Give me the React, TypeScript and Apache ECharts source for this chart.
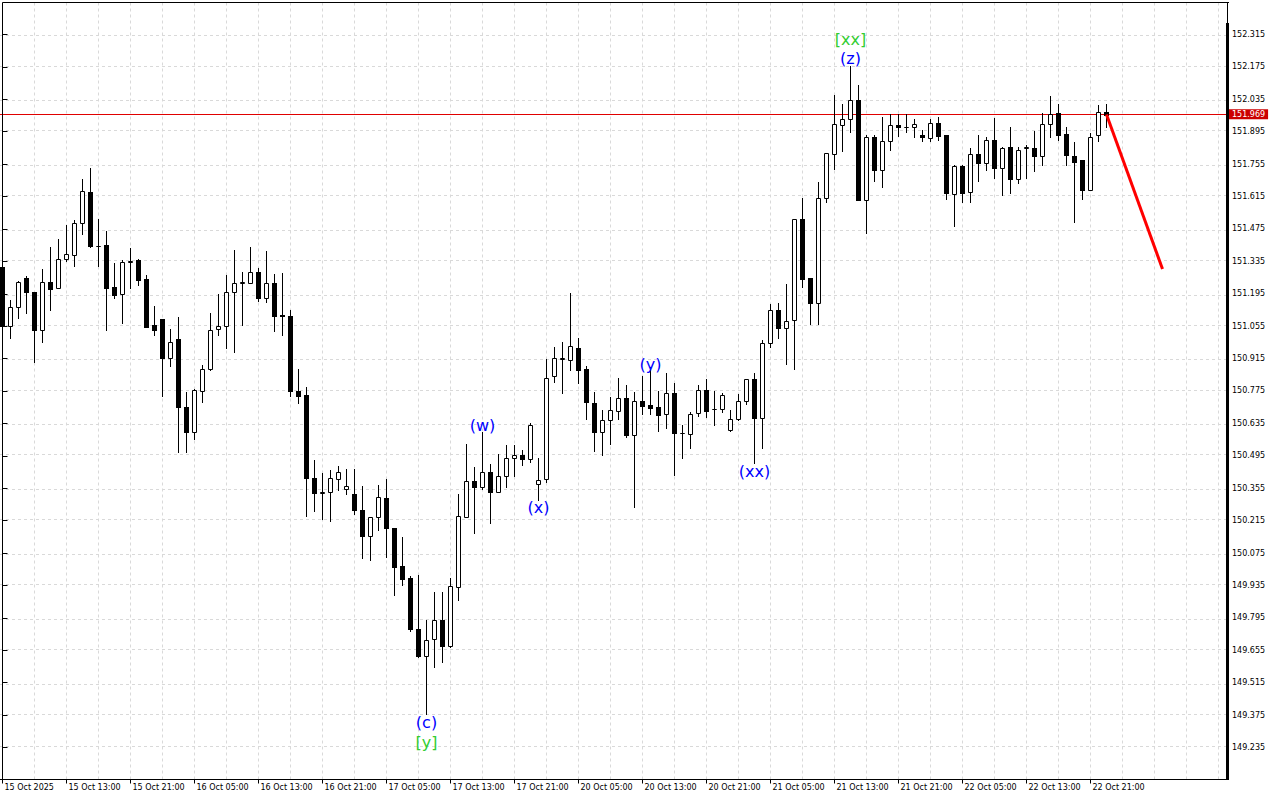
import React, { useEffect, useRef } from "react";
import * as echarts from "echarts";

// ---- Axis labels ----
const timeLabels = [
  "15 Oct 2025", "15 Oct 13:00", "15 Oct 21:00", "16 Oct 05:00", "16 Oct 13:00", "16 Oct 21:00",
  "17 Oct 05:00", "17 Oct 13:00", "17 Oct 21:00", "20 Oct 05:00", "20 Oct 13:00", "20 Oct 21:00",
  "21 Oct 05:00", "21 Oct 13:00", "21 Oct 21:00", "22 Oct 05:00", "22 Oct 13:00", "22 Oct 21:00",
];
const timeLabelBars = [0, 8, 16, 24, 32, 40, 48, 56, 64, 72, 80, 88, 96, 104, 112, 120, 128, 136];
const gridBars = [0, 4, 8, 12, 16, 20, 24, 28, 32, 36, 40, 44, 48, 52, 56, 60, 64, 68, 72, 76, 80, 84, 88, 92, 96, 100, 104, 108, 112, 116, 120, 124, 128, 132, 136, 140, 144, 148, 152];
const priceTicks = [
  152.315, 152.175, 152.035, 151.895, 151.755, 151.615, 151.475, 151.335, 151.195, 151.055,
  150.915, 150.775, 150.635, 150.495, 150.355, 150.215, 150.075, 149.935, 149.795, 149.655,
  149.515, 149.375, 149.235,
];

// ---- Candles (H1, bar index 0 = 15 Oct 05:00) ----
const open = [
  151.309, 151.055, 151.139, 151.264, 151.204, 151.038, 151.247, 151.221, 151.346, 151.362,
  151.502, 151.636, 151.401, 151.404, 151.223, 151.195, 151.334, 151.340, 151.257, 151.058,
  151.087, 150.917, 151.001, 150.708, 150.597, 150.776, 150.868, 151.044, 151.057, 151.204,
  151.242, 151.242, 151.290, 151.176, 151.242, 151.102, 151.101, 150.777, 150.756, 150.400,
  150.336, 150.340, 150.396, 150.350, 150.328, 150.263, 150.148, 150.230, 150.314, 150.184,
  150.017, 149.965, 149.748, 149.629, 149.705, 149.784, 149.673, 149.929, 150.232, 150.387,
  150.361, 150.426, 150.340, 150.407, 150.487, 150.499, 150.482, 150.374, 150.393, 150.839,
  150.915, 150.911, 150.962, 150.868, 150.724, 150.597, 150.649, 150.690, 150.746, 150.586,
  150.731, 150.716, 150.705, 150.675, 150.767, 150.593, 150.590, 150.681, 150.780, 150.696,
  150.696, 150.606, 150.653, 150.733, 150.825, 150.658, 150.983, 151.127, 151.046, 151.080,
  151.520, 151.262, 151.154, 151.610, 151.800, 151.925, 151.951, 152.033, 151.598, 151.873,
  151.729, 151.856, 151.926, 151.916, 151.916, 151.879, 151.869, 151.934, 151.879, 151.628,
  151.745, 151.634, 151.800, 151.761, 151.861, 151.737, 151.831, 151.692, 151.825, 151.823,
  151.789, 151.929, 151.974, 151.887, 151.792, 151.772, 151.645, 151.880, 151.981,
];
const high = [
  151.317, 151.170, 151.252, 151.271, 151.204, 151.300, 151.398, 151.433, 151.494, 151.512,
  151.689, 151.740, 151.516, 151.464, 151.326, 151.343, 151.394, 151.346, 151.274, 151.144,
  151.087, 151.041, 151.093, 150.770, 150.782, 150.888, 151.114, 151.193, 151.274, 151.382,
  151.290, 151.398, 151.306, 151.378, 151.281, 151.286, 151.123, 150.868, 150.794, 150.475,
  150.422, 150.432, 150.453, 150.439, 150.436, 150.364, 150.232, 150.367, 150.393, 150.185,
  150.144, 149.975, 149.979, 149.784, 149.908, 149.905, 149.965, 150.332, 150.544, 150.448,
  150.597, 150.458, 150.504, 150.540, 150.540, 150.522, 150.638, 150.487, 150.914, 150.966,
  150.988, 151.199, 151.002, 150.885, 150.772, 150.691, 150.748, 150.832, 150.799, 150.772,
  150.839, 150.880, 150.777, 150.854, 150.810, 150.626, 150.685, 150.799, 150.828, 150.777,
  150.767, 150.695, 150.763, 150.825, 150.854, 150.995, 151.149, 151.153, 151.239, 151.519,
  151.610, 151.262, 151.679, 151.804, 152.052, 152.013, 152.178, 152.095, 151.879, 151.879,
  151.960, 151.972, 151.972, 151.972, 151.951, 151.902, 151.948, 151.960, 151.879, 151.750,
  151.750, 151.826, 151.879, 151.873, 151.953, 151.830, 151.915, 151.830, 151.836, 151.896,
  151.977, 152.049, 152.016, 151.915, 151.850, 151.772, 151.890, 152.010, 152.013,
];
const low = [
  151.041, 151.002, 151.090, 151.110, 150.900, 150.986, 151.124, 151.221, 151.336, 151.317,
  151.455, 151.398, 151.314, 151.038, 151.176, 151.067, 151.221, 151.231, 151.051, 151.019,
  150.753, 150.882, 150.511, 150.511, 150.566, 150.727, 150.865, 151.016, 150.960, 150.943,
  151.059, 151.242, 151.163, 151.159, 151.033, 151.016, 150.753, 150.721, 150.234, 150.256,
  150.223, 150.213, 150.347, 150.328, 150.242, 150.055, 150.047, 150.174, 150.057, 149.893,
  149.936, 149.737, 149.627, 149.378, 149.582, 149.604, 149.670, 149.871, 150.232, 150.161,
  150.350, 150.203, 150.340, 150.361, 150.407, 150.456, 150.469, 150.306, 150.381, 150.813,
  150.767, 150.865, 150.810, 150.655, 150.515, 150.498, 150.548, 150.652, 150.577, 150.273,
  150.674, 150.674, 150.604, 150.614, 150.411, 150.484, 150.527, 150.666, 150.664, 150.630,
  150.683, 150.601, 150.649, 150.717, 150.465, 150.527, 150.964, 151.002, 150.890, 150.872,
  151.224, 151.065, 151.065, 151.592, 151.736, 151.811, 151.893, 151.598, 151.458, 151.681,
  151.657, 151.817, 151.876, 151.893, 151.871, 151.854, 151.854, 151.861, 151.605, 151.487,
  151.591, 151.591, 151.681, 151.729, 151.696, 151.621, 151.629, 151.674, 151.696, 151.725,
  151.753, 151.873, 151.861, 151.750, 151.504, 151.605, 151.645, 151.854, 151.915,
];
const close = [
  151.054, 151.139, 151.247, 151.202, 151.038, 151.247, 151.215, 151.346, 151.368, 151.502,
  151.640, 151.401, 151.403, 151.219, 151.189, 151.334, 151.336, 151.254, 151.051, 151.038,
  150.917, 150.988, 150.705, 150.597, 150.779, 150.871, 151.039, 151.057, 151.204, 151.242,
  151.244, 151.290, 151.176, 151.242, 151.098, 151.100, 150.776, 150.753, 150.400, 150.335,
  150.338, 150.400, 150.426, 150.364, 150.260, 150.148, 150.232, 150.318, 150.184, 150.014,
  149.961, 149.745, 149.629, 149.700, 149.784, 149.673, 149.934, 150.236, 150.387, 150.361,
  150.426, 150.340, 150.409, 150.487, 150.499, 150.482, 150.626, 150.392, 150.829, 150.918,
  150.917, 150.969, 150.865, 150.727, 150.597, 150.649, 150.691, 150.746, 150.583, 150.731,
  150.712, 150.701, 150.670, 150.767, 150.593, 150.595, 150.677, 150.780, 150.688, 150.698,
  150.759, 150.652, 150.733, 150.825, 150.658, 150.983, 151.126, 151.046, 151.078, 151.519,
  151.260, 151.154, 151.610, 151.801, 151.929, 151.951, 152.030, 151.598, 151.874, 151.729,
  151.856, 151.923, 151.916, 151.917, 151.929, 151.873, 151.934, 151.876, 151.631, 151.745,
  151.631, 151.800, 151.759, 151.861, 151.737, 151.826, 151.692, 151.818, 151.827, 151.789,
  151.929, 151.972, 151.883, 151.794, 151.763, 151.645, 151.873, 151.981, 151.969,
];

// ---- Overlays ----
const bidPrice = 151.969;
const forecastBars = [138, 145];
const forecastPrices = [151.969, 151.302];

const BLUE = "#0000ff";
const GREEN = "#32cd32";
const waveLabels = [
  { text: "[xx]", bar: 106, price: 152.293, color: GREEN },
  { text: "(z)", bar: 106, price: 152.211, color: BLUE },
  { text: "(w)", bar: 60, price: 150.628, color: BLUE },
  { text: "(x)", bar: 67, price: 150.27, color: BLUE },
  { text: "(y)", bar: 81, price: 150.89, color: BLUE },
  { text: "(xx)", bar: 94, price: 150.429, color: BLUE },
  { text: "(c)", bar: 53, price: 149.343, color: BLUE },
  { text: "[y]", bar: 53, price: 149.257, color: GREEN },
];

const FONT = "DejaVu Sans";

export default function App() {
  const ref = useRef<HTMLDivElement>(null);

  useEffect(() => {
    if (!ref.current) return;
    const chart = echarts.init(ref.current, null, { renderer: "svg" });

    const candleData = open.map((o, i) => [i, o, high[i], low[i], close[i]]);

    const option: any = {
      animation: false,
      backgroundColor: "#ffffff",
      grid: { left: 0, top: 2, width: 1226, height: 777.5 },
      xAxis: {
        type: "value",
        min: -0.3125,
        max: 152.9375,
        axisLine: { show: true, lineStyle: { color: "#000", width: 1 } },
        axisTick: { show: true, customValues: timeLabelBars, length: 4, lineStyle: { color: "#000" } },
        axisLabel: {
          customValues: timeLabelBars,
          formatter: (v: number) => {
            const idx = timeLabelBars.indexOf(Math.round(v));
            return idx >= 0 ? timeLabels[idx] : "";
          },
          align: "left",
          margin: 4,
          padding: [0, 0, 0, 2],
          fontFamily: FONT,
          fontSize: 8,
          color: "#000",
        },
        splitLine: { show: false },
      },
      yAxis: {
        type: "value",
        position: "right",
        min: 149.0967,
        max: 152.4554,
        axisLine: { show: false },
        axisTick: { show: true, customValues: priceTicks, length: 5, lineStyle: { color: "#000" } },
        axisLabel: {
          customValues: priceTicks,
          formatter: (v: number) => v.toFixed(3),
          margin: 6,
          fontFamily: FONT,
          fontSize: 8,
          color: "#000",
        },
        splitLine: { show: false },
      },
      series: [
        {
          type: "line",
          data: [],
          z: 1,
          silent: true,
          markLine: {
            silent: true,
            symbol: ["none", "none"],
            label: { show: false },
            lineStyle: { color: "#d9d9d9", type: [3, 3], width: 1 },
            emphasis: { disabled: true },
            data: [
              ...priceTicks.map((v) => ({ yAxis: v })),
              ...gridBars.map((k) => ({ xAxis: k })),
            ],
          },
        },
        {
          type: "line",
          data: [],
          z: 3,
          silent: true,
          markLine: {
            silent: true,
            symbol: ["none", "none"],
            lineStyle: { color: "#e00000", type: "solid", width: 1 },
            emphasis: { disabled: true },
            label: {
              show: true,
              position: "end",
              distance: 3,
              formatter: () => bidPrice.toFixed(3),
              backgroundColor: "#cc0000",
              color: "#ffffff",
              fontFamily: FONT,
              fontSize: 8,
              lineHeight: 10,
              padding: [0, 3, 0, 3],
            },
            data: [{ yAxis: bidPrice }],
          },
        },
        {
          type: "custom",
          z: 10,
          silent: true,
          encode: { x: 0, y: [1, 2, 3, 4] },
          data: candleData,
          renderItem: (params: any, api: any) => {
            const k = api.value(0);
            const o = api.value(1);
            const h = api.value(2);
            const l = api.value(3);
            const c = api.value(4);
            const po = api.coord([k, o]);
            const pc = api.coord([k, c]);
            const ph = api.coord([k, h]);
            const pl = api.coord([k, l]);
            const cx = Math.round(po[0] - 0.5) + 0.5;
            const yTop = Math.round(Math.min(po[1], pc[1]));
            const yBot = Math.round(Math.max(po[1], pc[1]));
            const up = c >= o;
            const children: any[] = [
              {
                type: "line",
                shape: { x1: cx, y1: Math.round(ph[1]), x2: cx, y2: Math.round(pl[1]) + 1 },
                style: { stroke: "#000", lineWidth: 1 },
              },
            ];
            if (up) {
              children.push({
                type: "rect",
                shape: { x: cx - 2, y: yTop + 0.5, width: 4, height: Math.max(yBot - yTop, 0) },
                style: { fill: "#ffffff", stroke: "#000", lineWidth: 1 },
              });
            } else {
              children.push({
                type: "rect",
                shape: { x: cx - 2.5, y: yTop, width: 5, height: Math.max(yBot - yTop + 1, 1) },
                style: { fill: "#000", stroke: null },
              });
            }
            return { type: "group", children };
          },
        },
        {
          type: "line",
          z: 15,
          silent: true,
          symbol: "none",
          data: forecastBars.map((k, i) => [k, forecastPrices[i]]),
          lineStyle: { color: "#ff0000", width: 3 },
        },
        {
          type: "scatter",
          z: 20,
          silent: true,
          symbolSize: 1,
          itemStyle: { color: "rgba(0,0,0,0)", opacity: 1 },
          data: waveLabels.map((w) => ({
            name: w.text,
            value: [w.bar, w.price],
            label: { color: w.color },
          })),
          label: {
            show: true,
            position: "inside",
            formatter: "{b}",
            fontFamily: FONT,
            fontSize: 16,
            opacity: 1,
          },
        },
      ],
      graphic: [
        { type: "line", z: 50, shape: { x1: 2.5, y1: 2.5, x2: 1229, y2: 2.5 }, style: { stroke: "#000", lineWidth: 1 } },
        { type: "line", z: 50, shape: { x1: 2.5, y1: 2.5, x2: 2.5, y2: 779.5 }, style: { stroke: "#000", lineWidth: 1 } },
        { type: "line", z: 50, shape: { x1: 1227.5, y1: 2.5, x2: 1227.5, y2: 23 }, style: { stroke: "#000", lineWidth: 1 } },
        { type: "rect", z: 50, shape: { x: 1226, y: 23, width: 3, height: 757 }, style: { fill: "#000" } },
        { type: "line", z: 50, shape: { x1: 0, y1: 779.5, x2: 1229, y2: 779.5 }, style: { stroke: "#000", lineWidth: 1 } },
      ],
    };

    chart.setOption(option);
    return () => chart.dispose();
  }, []);

  return (
    <div
      ref={ref}
      style={{ position: "fixed", left: 0, top: 0, width: 1280, height: 800, background: "#fff" }}
    />
  );
}
